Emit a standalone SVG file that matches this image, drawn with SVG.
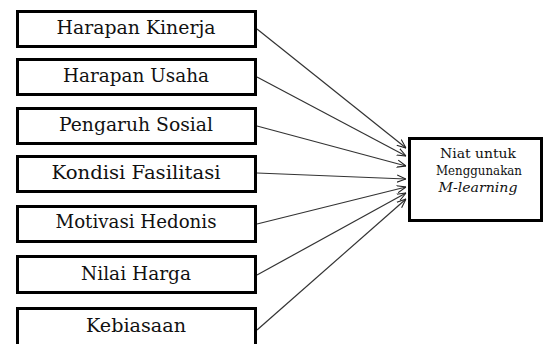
<svg xmlns="http://www.w3.org/2000/svg" width="545" height="344" viewBox="0 0 545 344">
<style>
.box{fill:#fff;stroke:#000;stroke-width:3}
.lbl{font-family:'DejaVu Serif','Liberation Serif',serif;font-size:18px;fill:#111;text-anchor:middle}
.sm{font-family:'DejaVu Serif','Liberation Serif',serif;font-size:13px;fill:#111;text-anchor:middle}
.con{stroke:#333;stroke-width:1.2;fill:none;marker-end:url(#arr)}
</style>
<defs>
<marker id="arr" viewBox="0 0 10 10" refX="10" refY="5" markerWidth="9" markerHeight="9" markerUnits="userSpaceOnUse" orient="auto">
<path d="M0,1 L10,5 L0,9" fill="none" stroke="#222" stroke-width="1.2"/>
</marker>
</defs>
<rect width="545" height="344" fill="#fff"/>
<g id="connectors">
<line class="con" x1="257" y1="29" x2="406" y2="148"/>
<line class="con" x1="257" y1="77" x2="406" y2="156"/>
<line class="con" x1="257" y1="126" x2="406" y2="166"/>
<line class="con" x1="257" y1="173" x2="406" y2="179"/>
<line class="con" x1="257" y1="224" x2="406" y2="187"/>
<line class="con" x1="257" y1="275" x2="406" y2="193"/>
<line class="con" x1="257" y1="330" x2="406" y2="199"/>
</g>
<g id="n1"><rect class="box" x="17.5" y="11.5" width="238" height="35"/><text class="lbl" x="136" y="34" textLength="159" lengthAdjust="spacingAndGlyphs">Harapan Kinerja</text></g>
<g id="n2"><rect class="box" x="17.5" y="59.5" width="238" height="35"/><text class="lbl" x="136" y="82" textLength="146" lengthAdjust="spacingAndGlyphs">Harapan Usaha</text></g>
<g id="n3"><rect class="box" x="17.5" y="108.5" width="238" height="35"/><text class="lbl" x="136" y="131" textLength="154" lengthAdjust="spacingAndGlyphs">Pengaruh Sosial</text></g>
<g id="n4"><rect class="box" x="17.5" y="156.5" width="238" height="35"/><text class="lbl" x="136" y="179" textLength="169" lengthAdjust="spacingAndGlyphs">Kondisi Fasilitasi</text></g>
<g id="n5"><rect class="box" x="17.5" y="206.5" width="238" height="35"/><text class="lbl" x="136" y="228" textLength="161" lengthAdjust="spacingAndGlyphs">Motivasi Hedonis</text></g>
<g id="n6"><rect class="box" x="17.5" y="256.5" width="238" height="36"/><text class="lbl" x="136" y="280" textLength="110" lengthAdjust="spacingAndGlyphs">Nilai Harga</text></g>
<g id="n7"><rect class="box" x="17.5" y="308.5" width="238" height="40"/><text class="lbl" x="136" y="332" textLength="100" lengthAdjust="spacingAndGlyphs">Kebiasaan</text></g>
<g id="target"><rect class="box" x="409.5" y="138.5" width="132" height="82"/>
<text class="sm" x="478" y="158" textLength="76" lengthAdjust="spacingAndGlyphs">Niat untuk</text>
<text class="sm" x="479" y="175" textLength="86" lengthAdjust="spacingAndGlyphs">Menggunakan</text>
<text class="sm" x="478" y="192" font-style="italic" textLength="79" lengthAdjust="spacingAndGlyphs">M-learning</text>
</g>
</svg>
